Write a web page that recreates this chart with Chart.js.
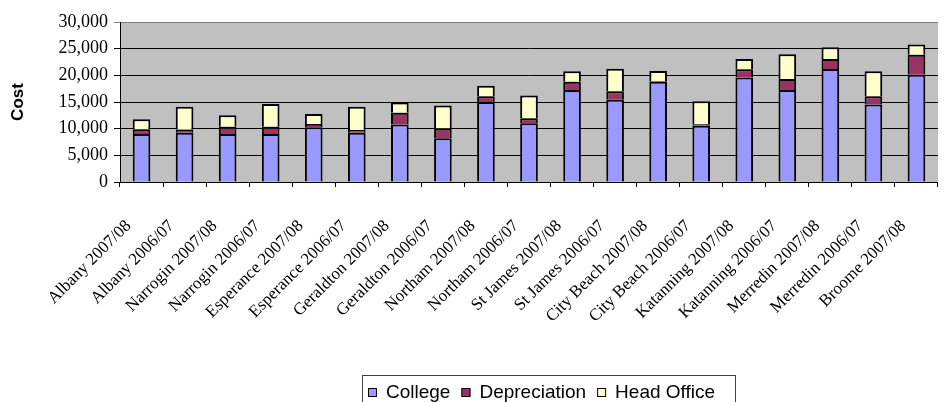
<!DOCTYPE html>
<html>
<head>
<meta charset="utf-8">
<title>Cost by college</title>
<script src="https://cdn.jsdelivr.net/npm/chart.js@4.4.1/dist/chart.umd.min.js"></script>
<style>
  html, body { margin: 0; padding: 0; background: #fff; overflow: hidden; }
  #wrap { width: 947px; height: 402px; overflow: hidden; }
</style>
</head>
<body>
<div id="wrap"><canvas id="cost-chart" width="960" height="402"></canvas></div>
<script>
const sites = [
    'Albany 2007/08', 'Albany 2006/07', 'Narrogin 2007/08', 'Narrogin 2006/07',
    'Esperance 2007/08', 'Esperance 2006/07', 'Geraldton 2007/08', 'Geraldton 2006/07',
    'Northam 2007/08', 'Northam 2006/07', 'St James 2007/08', 'St James 2006/07',
    'City Beach 2007/08', 'City Beach 2006/07', 'Katanning 2007/08', 'Katanning 2006/07',
    'Merredin 2007/08', 'Merredin 2006/07', 'Broome 2007/08'
];

const college = [9000, 9250, 9000, 9000, 10250, 9250, 10800, 8200, 15000, 11000,
    17250, 15400, 18800, 10550, 19600, 17250, 21200, 14550, 20100];
const depreciation = [880, 600, 1375, 1375, 625, 500, 2200, 1850, 1100, 950,
    1560, 1600, 150, 300, 1550, 2050, 1850, 1550, 3750];
const headOffice = [1880, 4250, 2125, 4250, 1875, 4370, 1900, 4300, 1950, 4250,
    1940, 4250, 1850, 4300, 1900, 4650, 2200, 4650, 1950];

const costTicks = [0, 5000, 10000, 15000, 20000, 25000, 30000];

const serif = '"Liberation Serif", "Times New Roman", serif';
const sans = '"Liberation Sans", Arial, sans-serif';

// grey plot area behind the bars
const plotBackground = {
    id: 'plotBackground',
    beforeDraw(chart) {
        const { ctx, chartArea: a } = chart;
        ctx.save();
        ctx.fillStyle = '#c0c0c0';
        ctx.fillRect(a.left, a.top, a.right - a.left, a.bottom - a.top);
        ctx.restore();
    }
};

// legend in a bordered box under the axis labels
const boxLegend = {
    id: 'boxLegend',
    afterDraw(chart) {
        const ctx = chart.ctx;
        const y = 392;
        let x = 368;
        ctx.save();
        ctx.strokeStyle = '#404040';
        ctx.lineWidth = 1;
        ctx.strokeRect(362.5, 375.5, 373, 40);
        ctx.font = '19px ' + sans;
        ctx.textBaseline = 'middle';
        chart.data.datasets.forEach(ds => {
            ctx.fillStyle = ds.backgroundColor;
            ctx.fillRect(x, y - 4, 9, 9);
            ctx.strokeStyle = '#000';
            ctx.strokeRect(x + 0.5, y - 3.5, 8, 8);
            x += 18;
            ctx.fillStyle = '#000';
            ctx.fillText(ds.label, x, y + 1);
            x += ctx.measureText(ds.label).width + 11;
        });
        ctx.restore();
    }
};

function segment(label, data, color) {
    return {
        label: label,
        data: data,
        backgroundColor: color,
        borderColor: '#000',
        borderWidth: 2,
        borderSkipped: 'start',
        barPercentage: 0.41,
        categoryPercentage: 1
    };
}

new Chart(document.getElementById('cost-chart'), {
    type: 'bar',
    data: {
        labels: sites,
        datasets: [
            segment('College', college, '#9999ff'),
            segment('Depreciation', depreciation, '#993366'),
            segment('Head Office', headOffice, '#ffffcc')
        ]
    },
    options: {
        responsive: false,
        animation: false,
        layout: { padding: { top: 22, right: 4, left: 0, bottom: 0 } },
        plugins: {
            legend: { display: false },
            tooltip: { enabled: false }
        },
        scales: {
            x: {
                stacked: true,
                grid: { drawOnChartArea: false, color: '#000', tickLength: 5, offset: true },
                border: { color: '#000', width: 1 },
                ticks: {
                    autoSkip: false,
                    minRotation: 45,
                    maxRotation: 45,
                    padding: 29,
                    labelOffset: -13,
                    color: '#000',
                    font: { family: serif, size: 17 }
                },
                afterFit(scale) { scale.height = 220; }
            },
            y: {
                stacked: true,
                min: costTicks[0],
                max: costTicks[costTicks.length - 1],
                afterBuildTicks(scale) { scale.ticks = costTicks.map(v => ({ value: v })); },
                ticks: {
                    padding: 6,
                    color: '#000',
                    font: { family: serif, size: 18 },
                    callback: v => v.toLocaleString('en-US')
                },
                grid: {
                    color: c => (c.tick && c.tick.value === 30000 ? '#808080' : '#000'),
                    tickLength: 6
                },
                border: { color: '#000', width: 1 },
                title: {
                    display: true,
                    text: 'Cost',
                    color: '#000',
                    font: { family: sans, size: 17, weight: 'bold' },
                    padding: { top: 8, bottom: 0 }
                },
                afterFit(scale) { scale.width = 120; }
            }
        }
    },
    plugins: [plotBackground, boxLegend]
});
</script>
</body>
</html>
